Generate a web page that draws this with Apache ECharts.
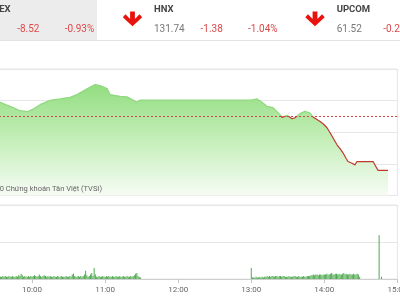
<!DOCTYPE html>
<html><head><meta charset="utf-8">
<script src="https://cdn.jsdelivr.net/npm/echarts@6/dist/echarts.min.js"></script>
<style>html,body{margin:0;padding:0;background:#fff}#c{width:400px;height:300px}</style>
</head><body><div id="c"></div>
<script>
// ---- data ----
const refValue = 917.5;
// minutes after 09:00
const priceTime = [15,25,33.7,44.4,50.1,55.9,60,66.6,74.8,83,91.2,96.9,105.2,111.7,115.8,121.6,124,132.2,138,142.1,146.2,149,
  240,244.7,248.8,252.9,257.9,263.6,265.3,269.4,273.5,275.9,280,284.1,288.2,290.7,296.5,299,302.2,304.7,307.2,310.4,312.9,315.3,317.8,319.4,322.7,325.1,326.8,340,344,352.3];
const priceValue = [919.0,919.5,919.73,918.89,918.41,918.25,918.57,919.36,920.05,920.27,920.52,920.95,921.86,922.54,922.38,921.9,920.95,920.68,920.59,920.16,919.73,920.1,
  920.1,920.27,919.73,919.1,918.89,917.78,917.35,917.67,917.14,917.3,917.94,918.3,918.05,917.41,916.71,916.35,915.71,914.92,914.1,913.02,912.4,911.75,910.9,910.37,910.1,909.84,910.37,910.37,908.98,908.98];
const volMorningStart = 30;
const volMorning = [5,4,3,4,3,3,4,3,4,3, 3,4,3,3,4,3,3,4,3,5, 4,7,5,3,4,3,3,4,3,4, 3,4,5,4,3,4,6,4,3,4,
  5,4,3,4,3,4,3,3,4,3, 3,4,3,3,4,3,3,3,4,3, 3,4,3,6,7,4,3,3,4,3, 4,3,4,6,11,5,3,4,6,8,
  4,15,6,3,3,4,3,3,4,3, 3,4,3,4,3,3,4,3,3,4, 3,3,4,3,3,4,3,3,4,3, 3,4,3,4,5,7,8,4,3,2];
const volAfternoonStart = 240;
const volAfternoon = [15,2,2,2,3,2,2,3,2,3, 2,3,3,4,3,4,3,4,4,3, 4,4,3,4,4,3,4,4,3,3, 3,4,3,3,3,4,4,3,3,4,
  3,3,3,4,3,3,4,4,4,5, 5,6,5,6,6,5,6,6,5,6, 6,6,7,6,6,7,8,6,6,7, 7,6,7,6,6,7,8,6,7,6, 6,7,6,6,7,6,6,7,6,3];
const volLateTime = [345, 347];
const volLate = [59, 3];
const indexNames = ['VN-INDEX', 'HNX', 'UPCOM'];
const indexChanges = ['-8.52', '-1.38', '-0.21'];
const indexPercents = ['-0.93%', '-1.04%', '-0.34%'];
const indexValues = ['907.68', '131.74', '61.52'];
const watermark = '© 2020 Chứng khoán Tân Việt (TVSI)';

// ---- build ----
const priceData = priceTime.map((t, i) => [t, priceValue[i]]);
const volData = [];
volMorning.forEach((v, i) => volData.push([volMorningStart + i, v]));
volAfternoon.forEach((v, i) => volData.push([volAfternoonStart + i, v]));
volLateTime.forEach((t, i) => volData.push([t, volLate[i]]));

function hhmm(m) { const h = 9 + Math.floor(m / 60), mm = m % 60; return (h < 10 ? '0' : '') + h + ':' + (mm < 10 ? '0' : '') + mm; }

const FONT = 'Roboto, sans-serif';
const red = '#dc4a4a';
const colX = [-29.3, 154, 336.7];
const valX = [-48, 154, 336.7];
const graphic = [
  { type: 'rect', shape: { x: 0, y: 0, width: 97, height: 40 }, style: { fill: '#ececec' } },
  { type: 'rect', shape: { x: 0, y: 40, width: 400, height: 1 }, style: { fill: '#e2e2e2' } },
  { type: 'text', x: 102, y: 189.5, z: 10, style: { text: watermark, fill: '#666', font: '7.5px ' + FONT, textAlign: 'right', textVerticalAlign: 'middle' } }
];
indexNames.forEach((n, i) => {
  const x0 = colX[i];
  graphic.push({ type: 'text', x: i === 0 ? 10.5 : x0, y: 10, style: { text: n, fill: '#444', font: 'bold 9.5px ' + FONT, textAlign: i === 0 ? 'right' : 'left', textVerticalAlign: 'middle' } });
  graphic.push({ type: 'text', x: valX[i], y: 29, style: { text: indexValues[i], fill: '#777', font: '10px ' + FONT, textAlign: 'left', textVerticalAlign: 'middle' } });
  graphic.push({ type: 'text', x: x0 + 46.5, y: 29, style: { text: indexChanges[i], fill: red, font: '10px ' + FONT, textAlign: 'left', textVerticalAlign: 'middle' } });
  graphic.push({ type: 'text', x: x0 + 94, y: 29, style: { text: indexPercents[i], fill: red, font: '10px ' + FONT, textAlign: 'left', textVerticalAlign: 'middle' } });
});
[132.5, 315].forEach(cx => {
  graphic.push({ type: 'polygon', shape: { points: [
    [cx - 2.4, 11.5], [cx + 2.4, 11.5], [cx + 2.4, 19], [cx + 7, 14.3], [cx + 9.7, 17.2], [cx, 26.2], [cx - 9.7, 17.2], [cx - 7, 14.3], [cx - 2.4, 19]
  ] }, style: { fill: '#e8130d' } });
});

const chart = echarts.init(document.getElementById('c'), null, { renderer: 'canvas' });
chart.setOption({
  animation: false,
  backgroundColor: '#fff',
  grid: [
    { left: -41, right: 2.6, top: 69, height: 126.5, show: true, borderColor: '#e6e6e6', borderWidth: 1, outerBoundsMode: 'none', containLabel: false },
    { left: -41, right: 2.6, top: 205, height: 74, show: true, borderColor: '#e6e6e6', borderWidth: 1, outerBoundsMode: 'none', containLabel: false }
  ],
  xAxis: [
    { type: 'value', gridIndex: 0, min: 0, max: 360, interval: 60, show: false },
    { type: 'value', gridIndex: 1, min: 0, max: 360, interval: 60,
      axisLine: { lineStyle: { color: '#cfcfcf' } },
      axisTick: { length: 4, lineStyle: { color: '#c4c4c4' } },
      splitLine: { show: false },
      axisLabel: { formatter: v => hhmm(v), fontSize: 8, color: '#666', margin: 7, fontFamily: FONT, showMinLabel: true, showMaxLabel: true } }
  ],
  yAxis: [
    { type: 'value', gridIndex: 0, min: 905, max: 925, interval: 5, axisLine: { show: false }, axisTick: { show: false }, axisLabel: { show: false }, splitLine: { lineStyle: { color: '#e6e6e6' } } },
    { type: 'value', gridIndex: 1, min: 0, max: 100, interval: 50, axisLine: { show: false }, axisTick: { show: false }, axisLabel: { show: false }, splitLine: { lineStyle: { color: '#e6e6e6' } } }
  ],
  visualMap: { show: false, type: 'piecewise', seriesIndex: 0, dimension: 1,
    pieces: [{ gt: 900, lte: refValue, color: '#c0392b' }, { gt: refValue, lte: 930, color: '#8fd87e' }],
    outOfRange: { color: '#8fd87e' } },
  series: [
    { type: 'line', xAxisIndex: 0, yAxisIndex: 0, data: priceData, showSymbol: false, symbol: 'none',
      lineStyle: { width: 1.2 },
      areaStyle: { opacity: 1, color: new echarts.graphic.LinearGradient(0, 0, 0, 1, [
        { offset: 0, color: '#92dd80' }, { offset: 0.45, color: '#c0edb4' }, { offset: 1, color: '#f6fcf4' }]) },
      markLine: { silent: true, symbol: 'none', label: { show: false },
        lineStyle: { color: '#d64545', type: [2, 2], width: 1 }, data: [{ yAxis: refValue }] } },
    { type: 'bar', xAxisIndex: 1, yAxisIndex: 1, data: volData, barWidth: 1, itemStyle: { color: '#4fa94f' } }
  ],
  graphic: graphic
});
</script></body></html>
